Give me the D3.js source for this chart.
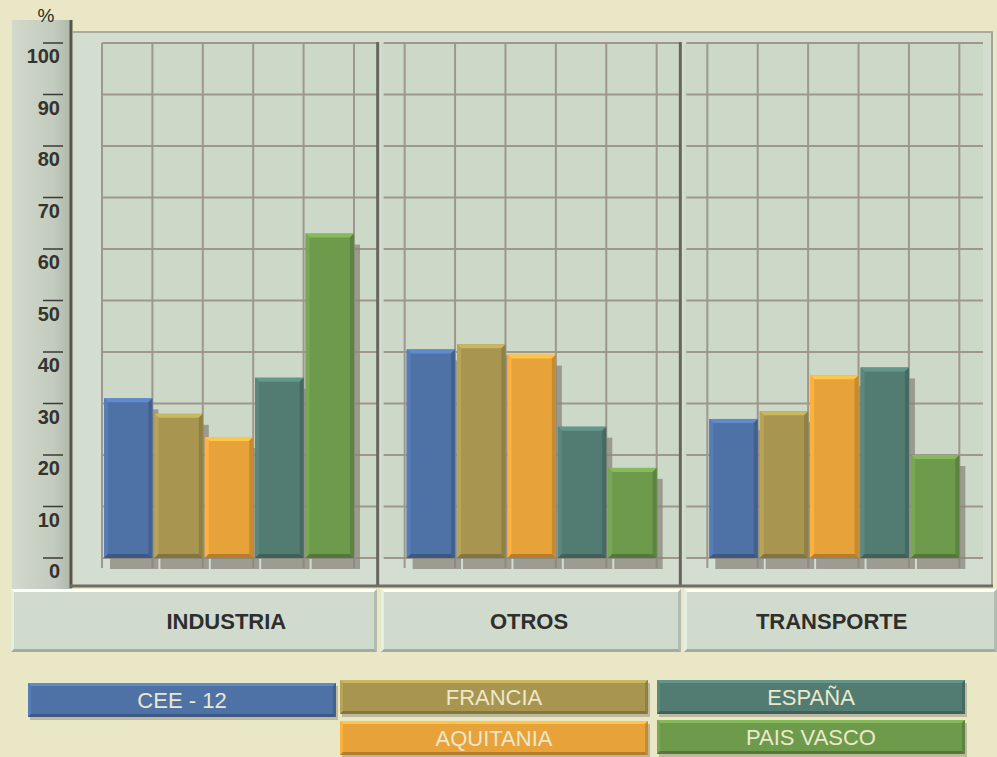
<!DOCTYPE html>
<html>
<head>
<meta charset="utf-8">
<script src="https://cdn.jsdelivr.net/npm/d3@7/dist/d3.min.js"></script>
<style>
  body { margin: 0; background: #e9e7c6; }
  svg { display: block; }
</style>
</head>
<body>
<div id="chart"></div>
<script>
// data
const categories = ['INDUSTRIA', 'OTROS', 'TRANSPORTE'];
const series = ['CEE - 12', 'FRANCIA', 'AQUITANIA', 'ESPAÑA', 'PAIS VASCO'];
const industria = [31, 28, 23.5, 35, 63];
const otros = [40.5, 41.5, 39.5, 25.5, 17.5];
const transporte = [27, 28.5, 35.5, 37, 20];
const yTicks = [0, 10, 20, 30, 40, 50, 60, 70, 80, 90, 100];
const seriesColors = ['#4f72a6', '#a89650', '#e8a23a', '#527c72', '#6d9a4b'];
// legend order: row 1 = CEE, FRANCIA, ESPAÑA; row 2 = AQUITANIA, PAIS VASCO
const legendOrder = ['CEE - 12', 'FRANCIA', 'ESPAÑA', 'AQUITANIA', 'PAIS VASCO'];

const values = [industria, otros, transporte];

const width = 997;
const height = 757;
const fontFamily = '"Liberation Sans", Arial, sans-serif';

const svg = d3.select('#chart')
  .append('svg')
  .attr('width', width)
  .attr('height', height);

svg.append('rect')
  .attr('width', width)
  .attr('height', height)
  .attr('fill', '#e9e7c6');

const y = d3.scaleLinear().domain([0, 100]).range([558, 43]);
const xPanel = d3.scaleBand().domain(categories).range([75, 983]);
const panelW = xPanel.bandwidth();
const cellW = 50.4;
const xBar = d3.scaleBand().domain(series).range([27, 27 + cellW * 5]);

// bevel helper, draws a raised box
function bevelBox(g, x, yTop, w, h, color, b) {
  let c = d3.color(color);
  g.append('rect')
    .attr('x', x).attr('y', yTop).attr('width', w).attr('height', h)
    .attr('fill', color);
  let poly = (pts, fill) => g.append('polygon')
    .attr('points', pts.map(p => p.join(',')).join(' '))
    .attr('fill', fill);
  poly([[x, yTop], [x + w, yTop], [x + w - b, yTop + b], [x + b, yTop + b]], c.brighter(0.55));
  poly([[x, yTop], [x + b, yTop + b], [x + b, yTop + h - b], [x, yTop + h]], c.brighter(0.25));
  poly([[x + w, yTop], [x + w, yTop + h], [x + w - b, yTop + h - b], [x + w - b, yTop + b]], c.darker(0.45));
  poly([[x, yTop + h], [x + w, yTop + h], [x + w - b, yTop + h - b], [x + b, yTop + h - b]], c.darker(0.7));
}

// axis strip on the left
const stripGrad = svg.append('defs').append('linearGradient')
  .attr('id', 'strip').attr('x1', 0).attr('x2', 1);
stripGrad.append('stop').attr('offset', 0).attr('stop-color', '#d3d9cc');
stripGrad.append('stop').attr('offset', 0.7).attr('stop-color', '#c2cbbd');
stripGrad.append('stop').attr('offset', 1).attr('stop-color', '#aeb6a8');

svg.append('rect')
  .attr('x', 12).attr('y', 20).attr('width', 60).attr('height', 570)
  .attr('fill', 'url(#strip)');

// frame of the plot
svg.append('rect')
  .attr('x', 73).attr('y', 31).attr('width', 920).attr('height', 556)
  .attr('fill', '#d3ddd0');
svg.append('line')
  .attr('x1', 73).attr('x2', 993).attr('y1', 32).attr('y2', 32)
  .attr('stroke', '#a9ab9b').attr('stroke-width', 2);
svg.append('line')
  .attr('x1', 992).attr('x2', 992).attr('y1', 32).attr('y2', 587)
  .attr('stroke', '#a3a698').attr('stroke-width', 2);

// panels
categories.forEach((cat, i) => {
  let px = xPanel(cat);
  let g = svg.append('g').attr('transform', `translate(${px},0)`);

  g.append('rect')
    .attr('x', i === 0 ? 27 : 4).attr('y', 43)
    .attr('width', i === 0 ? panelW - 27 : panelW - 4).attr('height', 558 - 43)
    .attr('fill', '#ccd9c8');

  // horizontal grid lines
  g.selectAll('line.h')
    .data(yTicks)
    .enter()
    .append('line')
    .attr('class', 'h')
    .attr('x1', i === 0 ? 27 : 6)
    .attr('x2', panelW)
    .attr('y1', d => y(d))
    .attr('y2', d => y(d))
    .attr('stroke', '#9d978c')
    .attr('stroke-width', 2);

  // vertical grid lines
  g.selectAll('line.v')
    .data(d3.range(6))
    .enter()
    .append('line')
    .attr('class', 'v')
    .attr('x1', k => 27 + k * cellW)
    .attr('x2', k => 27 + k * cellW)
    .attr('y1', y(100))
    .attr('y2', y(0) + 10)
    .attr('stroke', '#9d978c')
    .attr('stroke-width', 2);

  // shadows
  g.selectAll('rect.shadow')
    .data(values[i])
    .enter()
    .append('rect')
    .attr('class', 'shadow')
    .attr('x', (d, j) => xBar(series[j]) + 8)
    .attr('y', d => y(d) + 11)
    .attr('width', xBar.bandwidth() - 2)
    .attr('height', d => y(0) - y(d))
    .attr('fill', '#8a857b')
    .attr('opacity', 0.75);

  // bars
  values[i].forEach((v, j) => {
    bevelBox(g, xBar(series[j]) + 2, y(v), xBar.bandwidth() - 2, y(0) - y(v), seriesColors[j], 4);
  });

  // divider on the right of the panel
  if (i < categories.length - 1) {
    g.append('line')
      .attr('x1', panelW).attr('x2', panelW)
      .attr('y1', 42).attr('y2', 586)
      .attr('stroke', '#66665f').attr('stroke-width', 3);
  }
});

// dark right edge of axis strip and bottom edge of frame
svg.append('line')
  .attr('x1', 71).attr('x2', 71).attr('y1', 20).attr('y2', 588)
  .attr('stroke', '#55554f').attr('stroke-width', 3);
svg.append('line')
  .attr('x1', 70).attr('x2', 993).attr('y1', 586).attr('y2', 586)
  .attr('stroke', '#6e6e66').attr('stroke-width', 3);

// y axis ticks and labels
const axisG = svg.append('g');
axisG.selectAll('line.tick')
  .data(yTicks)
  .enter()
  .append('line')
  .attr('x1', 43).attr('x2', 63)
  .attr('y1', d => y(d)).attr('y2', d => y(d))
  .attr('stroke', '#3a3a36').attr('stroke-width', 1.5);
axisG.selectAll('text')
  .data(yTicks)
  .enter()
  .append('text')
  .attr('x', 60)
  .attr('y', d => y(d) + 20)
  .attr('text-anchor', 'end')
  .attr('font-family', fontFamily)
  .attr('font-weight', 'bold')
  .attr('font-size', 20)
  .attr('fill', '#33332f')
  .text(d => d);
svg.append('text')
  .attr('x', 46).attr('y', 22)
  .attr('text-anchor', 'middle')
  .attr('font-family', fontFamily)
  .attr('font-size', 19)
  .attr('fill', '#2c2c2a')
  .text('%');

// category label boxes
const catBoxes = [[11, 377], [381, 681], [684, 997]];
categories.forEach((cat, i) => {
  let [x0, x1] = catBoxes[i];
  bevelBox(svg.append('g'), x0, 589, x1 - x0, 63, '#d0dbcd', 3);
  svg.append('text')
    .attr('x', xPanel(cat) + panelW / 2)
    .attr('y', 629)
    .attr('text-anchor', 'middle')
    .attr('font-family', fontFamily)
    .attr('font-weight', 'bold')
    .attr('font-size', 22)
    .attr('fill', '#2e2e2c')
    .text(cat);
});

// legend
const legendSlots = [[28, 683], [340, 680], [657, 680], [340, 721], [657, 720]];
legendOrder.forEach((name, k) => {
  let [lx, ly] = legendSlots[k];
  let color = seriesColors[series.indexOf(name)];
  let g = svg.append('g');
  g.append('rect')
    .attr('x', lx + 2).attr('y', ly + 3).attr('width', 308).attr('height', 34)
    .attr('fill', '#8f8c78').attr('opacity', 0.5);
  bevelBox(g, lx, ly, 308, 34, color, 3);
  g.append('text')
    .attr('x', lx + 154)
    .attr('y', ly + 25)
    .attr('text-anchor', 'middle')
    .attr('font-family', fontFamily)
    .attr('font-size', 22)
    .attr('fill', '#ece8cc')
    .text(name);
});
</script>
</body>
</html>
